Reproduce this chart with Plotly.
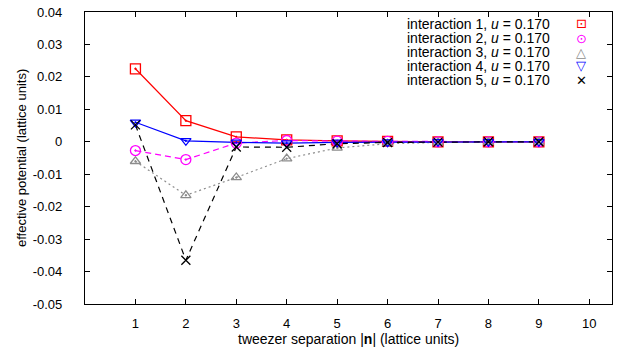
import plotly.graph_objects as go

separation = [1, 2, 3, 4, 5, 6, 7, 8, 9]
interaction1 = [0.0225, 0.0065, 0.0015, 0.0006, 0.0003, 0.0001, 0.0, 0.0, 0.0]
interaction2 = [-0.0027, -0.0055, -0.0004, 0.0004, 0.0002, 0.0001, 0.0, 0.0, 0.0]
interaction3 = [-0.0060, -0.0165, -0.0110, -0.0052, -0.0019, -0.0006, -0.0002, -0.0001, 0.0]
interaction4 = [0.0060, 0.0003, -0.0002, -0.0004, -0.0002, -0.0001, 0.0, 0.0, 0.0]
interaction5 = [0.0052, -0.0365, -0.0016, -0.0017, -0.0006, -0.0002, -0.0001, 0.0, 0.0]
labels = ["interaction 1, <i>u</i> = 0.170", "interaction 2, <i>u</i> = 0.170",
          "interaction 3, <i>u</i> = 0.170", "interaction 4, <i>u</i> = 0.170",
          "interaction 5, <i>u</i> = 0.170"]
legend_glyphs = ["⊡", "⊙", "△", "▽", "✕"]
yticks = [0.04, 0.03, 0.02, 0.01, 0, -0.01, -0.02, -0.03, -0.04, -0.05]
ytick_text = ["0.04", "0.03", "0.02", "0.01", "0", "-0.01", "-0.02", "-0.03", "-0.04", "-0.05"]
xticks = [1, 2, 3, 4, 5, 6, 7, 8, 9, 10]

series = [interaction1, interaction2, interaction3, interaction4, interaction5]
colors = ["#ff0000", "#ff00ff", "#8c8c8c", "#0000ff", "#000000"]
dashes = ["solid", "6px,4px", "2px,3px", "solid", "6px,5px"]
symbols = ["square-open-dot", "circle-open-dot", "triangle-up-open-dot",
           "triangle-down-open-dot", "x-thin-open"]
sizes = [10, 10, 9, 9, 9]

fig = go.Figure()
for s, c, d in zip(series, colors, dashes):
    fig.add_trace(go.Scatter(x=separation, y=s, mode="lines",
                             line=dict(color=c, width=1.2, dash=d), showlegend=False))
for s, c, sym, sz in zip(series, colors, symbols, sizes):
    fig.add_trace(go.Scatter(x=separation, y=s, mode="markers",
                             marker=dict(symbol=sym, size=sz, color=c,
                                         line=dict(color=c, width=1.3)),
                             showlegend=False))

L, R, T, B = 85, 612, 12, 304
def fx(px):
    return (px - L) / (R - L)
def fy(py):
    return 1 - (py - T) / (B - T)

row_y = [24, 38, 52, 66, 80]
for lab, g, c, ry in zip(labels, legend_glyphs, colors, row_y):
    fig.add_annotation(x=fx(552), y=fy(ry), xref="x domain", yref="y domain", text=lab,
                       showarrow=False, xanchor="right", yanchor="middle",
                       font=dict(size=14, color="black"))
    fig.add_annotation(x=fx(581), y=fy(ry), xref="x domain", yref="y domain", text=g,
                       showarrow=False, xanchor="center", yanchor="middle",
                       font=dict(size=13, color=c, family="DejaVu Sans"))

# axis titles
fig.add_annotation(x=fx(348), y=fy(339), xref="x domain", yref="y domain",
                   text="tweezer separation |<b>n</b>| (lattice units)", showarrow=False,
                   xanchor="center", yanchor="middle", font=dict(size=14, color="black"))
fig.add_annotation(x=fx(21), y=fy(158), xref="x domain", yref="y domain",
                   text="effective potential (lattice units)", showarrow=False, textangle=-90,
                   xanchor="center", yanchor="middle", font=dict(size=13, color="black"))

axis_common = dict(showgrid=False, zeroline=False, showline=True, linecolor="black",
                   linewidth=1.2, mirror="ticks", ticks="inside", ticklen=5,
                   tickcolor="black", tickfont=dict(size=13, color="black"),
                   automargin=False)

fig.update_layout(
    width=625, height=352,
    margin=dict(l=L, r=625 - R, t=T, b=352 - B),
    paper_bgcolor="white", plot_bgcolor="white",
    font=dict(family="Liberation Sans, Arial, sans-serif", size=13, color="black"),
    xaxis=dict(range=[0, 10.45], tickvals=xticks, ticklabelstandoff=7, **axis_common),
    yaxis=dict(range=[-0.05, 0.04], tickvals=yticks, ticktext=ytick_text,
               ticklabelstandoff=19, **axis_common),
    showlegend=False,
)

fig.write_html("out.html", config={"displayModeBar": False},
               post_script="document.body.style.margin='0';document.body.style.overflow='hidden';")
